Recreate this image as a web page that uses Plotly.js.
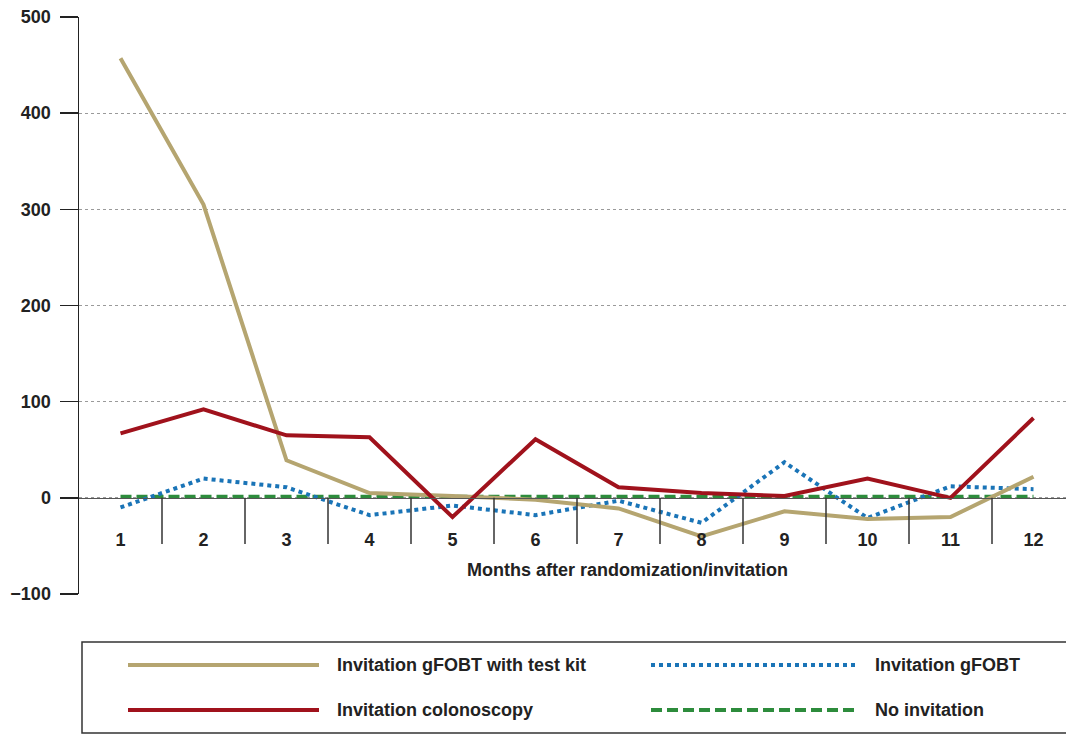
<!DOCTYPE html>
<html>
<head>
<meta charset="utf-8">
<script src="https://cdn.plot.ly/plotly-3.0.1.min.js"></script>
<style>
  html, body { margin: 0; padding: 0; background: #fff; }
  #chart { width: 1066px; height: 734px; }
</style>
</head>
<body>
<div id="chart"></div>
<script>
// ---- data ----
const months = [1, 2, 3, 4, 5, 6, 7, 8, 9, 10, 11, 12];
const seriesNames = [
  "Invitation gFOBT with test kit",
  "Invitation gFOBT",
  "Invitation colonoscopy",
  "No invitation"
];
const gfobtKit    = [457, 305, 39, 5, 2, -2, -11, -40, -14, -22, -20, 22];
const gfobt       = [-10, 20, 11, -18, -8, -18, -3, -26, 37, -21, 12, 9];
const colonoscopy = [67, 92, 65, 63, -20, 61, 11, 5, 2, 20, 0, 83];
const noInvite    = [1, 1, 1, 1, 1, 1, 1, 1, 1, 1, 1, 1];
const yTickVals   = [-100, 0, 100, 200, 300, 400, 500];
const yTickText   = ["\u2212100", "0", "100", "200", "300", "400", "500"];
const xTitle      = "Months after randomization/invitation";

// ---- styles ----
const FONT = "Liberation Sans Narrow, Arial Narrow, Liberation Sans, Arial, sans-serif";
const FS = 18;
const styles = [
  { color: "#b5a570", width: 4, dash: "solid" },
  { color: "#1a74b7", width: 4, dash: "dot" },
  { color: "#a0121c", width: 4, dash: "solid" },
  { color: "#2d8c3c", width: 4, dash: "11px,5px" }
];
const seriesData = [gfobtKit, gfobt, colonoscopy, noInvite];
// draw order: green first at back
const drawOrder = [3, 1, 0, 2];

const traces = drawOrder.map(i => ({
  type: "scatter",
  mode: "lines",
  x: months,
  y: seriesData[i],
  name: seriesNames[i],
  line: { color: styles[i].color, width: styles[i].width, dash: styles[i].dash },
  showlegend: false,
  hoverinfo: "x+y+name"
}));

// ---- layout geometry ----
const W = 1066, H = 734;
const mL = 79, mR = 0, mT = 17, mB = 140;
const plotW = W - mL - mR, plotH = H - mT - mB;
const px2paperX = px => (px - mL) / plotW;
const py2paperY = py => (H - mB - py) / plotH;

const yMin = -100, yMax = 500;

// boundary ticks between months on the zero line
const shapes = months.slice(0, -1).map(m => ({
  type: "line", xref: "x", yref: "y",
  x0: m + 0.5, x1: m + 0.5, y0: 0, y1: -48,
  line: { color: "#333", width: 1.5 }
}));

// legend box
shapes.push({
  type: "rect", xref: "paper", yref: "paper",
  x0: px2paperX(82), x1: px2paperX(1075),
  y0: py2paperY(733), y1: py2paperY(642),
  line: { color: "#333", width: 1.5 }, fillcolor: "rgba(0,0,0,0)"
});

const legendPos = [
  { lx0: 128, lx1: 319, tx: 335, py: 665 },   // gFOBT with test kit
  { lx0: 651, lx1: 856, tx: 873, py: 665 },   // gFOBT
  { lx0: 128, lx1: 319, tx: 335, py: 710 },   // colonoscopy
  { lx0: 651, lx1: 856, tx: 873, py: 710 }    // no invitation
];
const annotations = [];
legendPos.forEach((p, i) => {
  shapes.push({
    type: "line", xref: "paper", yref: "paper",
    x0: px2paperX(p.lx0), x1: px2paperX(p.lx1),
    y0: py2paperY(p.py), y1: py2paperY(p.py),
    line: { color: styles[i].color, width: styles[i].width, dash: styles[i].dash }
  });
  annotations.push({
    xref: "paper", yref: "paper",
    x: px2paperX(p.tx), y: py2paperY(p.py),
    xanchor: "left", yanchor: "middle",
    text: seriesNames[i], showarrow: false,
    font: { family: FONT, size: FS, color: "#222", weight: "bold" }
  });
});

annotations.push({
  xref: "paper", yref: "paper",
  x: px2paperX(627), y: py2paperY(570),
  xanchor: "center", yanchor: "middle",
  text: xTitle, showarrow: false,
  font: { family: FONT, size: FS, color: "#222", weight: "bold" }
});

const layout = {
  width: W, height: H,
  margin: { l: mL, r: mR, t: mT, b: mB, pad: 0 },
  paper_bgcolor: "#fff",
  plot_bgcolor: "#fff",
  showlegend: false,
  font: { family: FONT, size: FS, color: "#222", weight: "bold" },
  xaxis: {
    type: "linear",
    range: [0.5, 0.5 + plotW / 83.0],
    tickvals: months,
    ticktext: months.map(String),
    ticks: "",
    showgrid: false,
    zeroline: false,
    showline: true,
    linecolor: "#555",
    linewidth: 1.5,
    anchor: "free",
    position: (0 - yMin) / (yMax - yMin),
    ticklabelstandoff: 25,
    tickfont: { family: FONT, size: FS, color: "#222", weight: "bold" },
    fixedrange: true
  },
  yaxis: {
    range: [yMin, yMax],
    tickvals: yTickVals,
    ticktext: yTickText,
    ticks: "outside",
    ticklen: 18,
    tickwidth: 1.5,
    tickcolor: "#222",
    showline: true,
    linecolor: "#222",
    linewidth: 1.5,
    showgrid: true,
    gridcolor: "#9a9a9a",
    griddash: "dot",
    gridwidth: 1,
    zeroline: false,
    ticklabelstandoff: 5,
    tickfont: { family: FONT, size: FS, color: "#222", weight: "bold" },
    fixedrange: true
  },
  shapes: shapes,
  annotations: annotations
};

Plotly.newPlot("chart", traces, layout, { displayModeBar: false, staticPlot: true });
</script>
</body>
</html>
